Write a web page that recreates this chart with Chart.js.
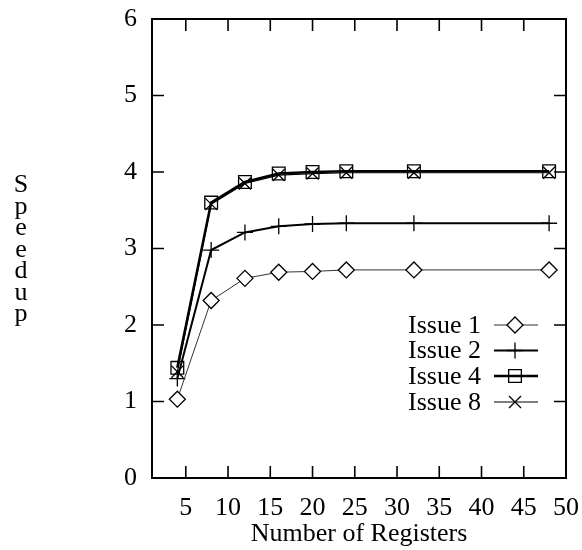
<!DOCTYPE html>
<html>
<head>
<meta charset="utf-8">
<script src="https://cdn.jsdelivr.net/npm/chart.js@4/dist/chart.umd.min.js"></script>
<style>
    body { margin: 0; background: #fff; }
    #wrap { width: 582px; height: 550px; }
</style>
</head>
<body>
<div id="wrap"><canvas id="chart" width="582" height="550"></canvas></div>
<script>
// register counts on the x axis
const registers = [4, 8, 12, 16, 20, 24, 32, 48];

// speedup for each issue width
const issue1 = [1.03, 2.32, 2.61, 2.69, 2.70, 2.72, 2.72, 2.72];
const issue2 = [1.30, 2.98, 3.21, 3.29, 3.32, 3.33, 3.33, 3.33];
const issue4 = [1.44, 3.60, 3.87, 3.98, 4.00, 4.01, 4.01, 4.01];
const issue8 = [1.39, 3.58, 3.85, 3.96, 3.98, 3.99, 3.99, 3.99];

const seriesLabels = ["Issue 1", "Issue 2", "Issue 4", "Issue 8"];

// tick labels
const xTicks = [5, 10, 15, 20, 25, 30, 35, 40, 45, 50];
const yTicks = [0, 1, 2, 3, 4, 5, 6];

const serif = "'Liberation Serif', 'Times New Roman', serif";
const fontSize = 26;

function points(values) {
    return registers.map((r, i) => ({ x: r, y: values[i] }));
}

// frame, inward tick marks on all four sides
const framePlugin = {
    id: "frame",
    afterDraw(chart) {
        const ctx = chart.ctx;
        const a = chart.chartArea;
        const xs = chart.scales.x;
        const ys = chart.scales.y;
        const len = 12;
        ctx.save();
        ctx.strokeStyle = "#000";
        ctx.lineWidth = 1.6;
        ctx.beginPath();
        xTicks.forEach(v => {
            const px = xs.getPixelForValue(v);
            ctx.moveTo(px, a.bottom);
            ctx.lineTo(px, a.bottom - len);
            ctx.moveTo(px, a.top);
            ctx.lineTo(px, a.top + len);
        });
        yTicks.forEach(v => {
            const py = ys.getPixelForValue(v);
            ctx.moveTo(a.left, py);
            ctx.lineTo(a.left + len, py);
            ctx.moveTo(a.right, py);
            ctx.lineTo(a.right - len, py);
        });
        ctx.stroke();
        ctx.lineWidth = 2;
        ctx.strokeRect(a.left, a.top, a.right - a.left, a.bottom - a.top);
        ctx.restore();
    }
};

// vertical stacked "Speedup" title
const yTitlePlugin = {
    id: "yTitle",
    afterDraw(chart) {
        const ctx = chart.ctx;
        const letters = "Speedup".split("");
        ctx.save();
        ctx.fillStyle = "#000";
        ctx.font = fontSize + "px " + serif;
        ctx.textAlign = "center";
        ctx.textBaseline = "alphabetic";
        letters.forEach((ch, i) => {
            ctx.fillText(ch, 21, 192 + i * 21.5);
        });
        ctx.restore();
    }
};

// legend with line sample and marker, inside the plot
const keyPlugin = {
    id: "key",
    afterDraw(chart) {
        const ctx = chart.ctx;
        const rowsY = [325, 350.5, 376, 402];
        ctx.save();
        ctx.font = fontSize + "px " + serif;
        ctx.textAlign = "right";
        ctx.textBaseline = "middle";
        chart.data.datasets.forEach((ds, i) => {
            const y = rowsY[i];
            ctx.fillStyle = "#000";
            ctx.fillText(ds.label, 481, y + 1);
            ctx.strokeStyle = ds.borderColor;
            ctx.lineWidth = ds.borderWidth;
            ctx.beginPath();
            ctx.moveTo(494, y);
            ctx.lineTo(538, y);
            ctx.stroke();
            ctx.strokeStyle = "#000";
            ctx.fillStyle = ds.pointBackgroundColor;
            ctx.lineWidth = ds.pointBorderWidth;
            Chart.helpers.drawPoint(ctx, {
                pointStyle: ds.pointStyle,
                radius: ds.pointRadius,
                rotation: 0,
                borderWidth: ds.pointBorderWidth
            }, 515, y);
        });
        ctx.restore();
    }
};

const ctx = document.getElementById("chart");

const chart = new Chart(ctx, {
    type: "line",
    data: {
        datasets: [
            {
                label: seriesLabels[0],
                data: points(issue1),
                borderColor: "#333",
                borderWidth: 1,
                pointStyle: "rectRot",
                pointRadius: 8,
                pointBorderColor: "#000",
                pointBackgroundColor: "#fff",
                pointBorderWidth: 1.3
            },
            {
                label: seriesLabels[1],
                data: points(issue2),
                borderColor: "#000",
                borderWidth: 2,
                pointStyle: "cross",
                pointRadius: 8,
                pointBorderColor: "#000",
                pointBackgroundColor: "#fff",
                pointBorderWidth: 1.3
            },
            {
                label: seriesLabels[2],
                data: points(issue4),
                borderColor: "#000",
                borderWidth: 2.6,
                pointStyle: "rect",
                pointRadius: 9,
                pointBorderColor: "#000",
                pointBackgroundColor: "rgba(255,255,255,0)",
                pointBorderWidth: 1.3
            },
            {
                label: seriesLabels[3],
                data: points(issue8),
                borderColor: "#000",
                borderWidth: 1.2,
                pointStyle: "crossRot",
                pointRadius: 8.5,
                pointBorderColor: "#000",
                pointBackgroundColor: "#fff",
                pointBorderWidth: 1.3
            }
        ]
    },
    options: {
        responsive: false,
        animation: false,
        devicePixelRatio: 1,
        layout: { padding: { top: 19, right: 16, left: 0, bottom: 0 } },
        elements: {
            line: { tension: 0, fill: false }
        },
        plugins: {
            legend: { display: false },
            tooltip: { enabled: false }
        },
        scales: {
            x: {
                type: "linear",
                min: 1,
                max: 50,
                afterBuildTicks(scale) {
                    scale.ticks = xTicks.map(v => ({ value: v }));
                },
                afterFit(scale) {
                    scale.height = 72;
                    scale.paddingLeft = 0;
                    scale.paddingRight = 0;
                },
                grid: { display: false, drawTicks: false },
                border: { display: false },
                ticks: {
                    color: "#000",
                    padding: 15,
                    maxRotation: 0,
                    font: { family: serif, size: fontSize }
                },
                title: {
                    display: true,
                    text: "Number of Registers",
                    color: "#000",
                    padding: { top: 0, bottom: 0 },
                    font: { family: serif, size: fontSize }
                }
            },
            y: {
                min: 0,
                max: 6,
                afterBuildTicks(scale) {
                    scale.ticks = yTicks.map(v => ({ value: v }));
                },
                afterFit(scale) {
                    scale.width = 152;
                    scale.paddingTop = 0;
                    scale.paddingBottom = 0;
                },
                grid: { display: false, drawTicks: false },
                border: { display: false },
                ticks: {
                    color: "#000",
                    padding: 15,
                    font: { family: serif, size: fontSize }
                }
            }
        }
    },
    plugins: [framePlugin, yTitlePlugin, keyPlugin]
});
</script>
</body>
</html>
